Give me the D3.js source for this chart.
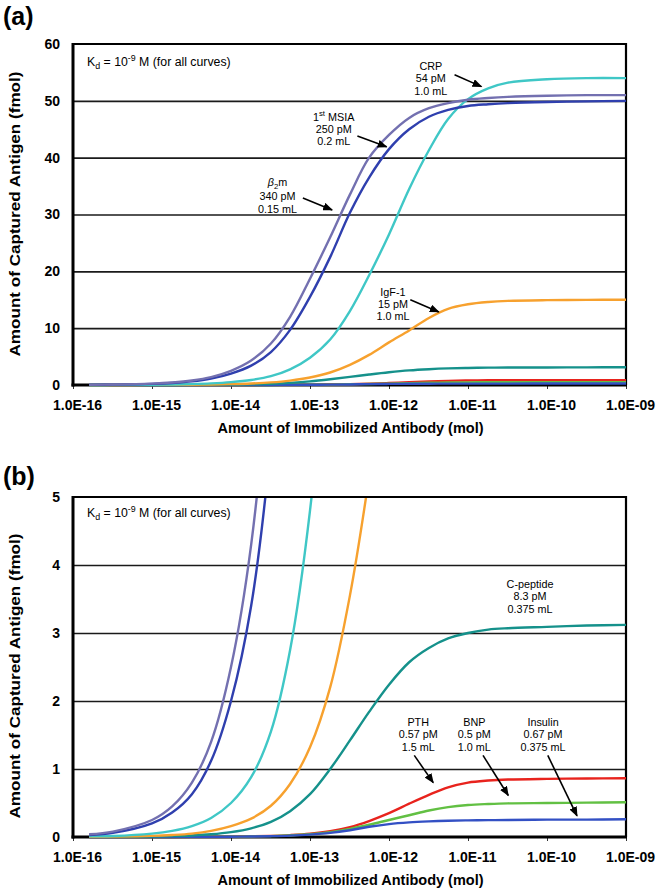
<!DOCTYPE html>
<html><head><meta charset="utf-8">
<script src="https://cdn.jsdelivr.net/npm/d3@7"></script>
<style>
body{margin:0;background:#fff}
text{font-family:"Liberation Sans",Arial,Helvetica,sans-serif;fill:#000}
</style>
</head><body>
<svg id="chart" width="663" height="894"></svg>
<script>
// ---------------- DATA ----------------
const antibodyMol = [1.6e-16, 3.2e-16, 1e-15, 1.8e-15, 3.2e-15, 5.6e-15, 1e-14, 1.8e-14, 3.2e-14, 5.6e-14,
  1e-13, 1.8e-13, 3.2e-13, 5.6e-13, 1e-12, 1.8e-12, 3.2e-12, 5.6e-12, 1e-11, 1.8e-11, 3.2e-11, 1e-10, 3.2e-10, 1e-9];

const b2m      = [0.04, 0.08, 0.25, 0.45, 0.8, 1.4, 2.5, 4.3, 7.3, 12, 18.7, 26, 33.5, 40, 44, 47, 48.7, 49.6, 50.2, 50.5, 50.7, 50.9, 51, 51];
const msia     = [0.03, 0.06, 0.2, 0.36, 0.63, 1.12, 2.0, 3.4, 5.8, 9.7, 15.5, 22.5, 30.3, 36.5, 41.5, 45, 47.2, 48.4, 49.1, 49.4, 49.6, 49.8, 49.9, 50];
const crp      = [0.01, 0.015, 0.05, 0.09, 0.16, 0.28, 0.5, 0.88, 1.55, 2.75, 4.8, 8.0, 13, 19.3, 26.5, 34.5, 41.3, 46.8, 50.3, 52.2, 53.2, 53.8, 54, 54];
const igf1     = [0.0025, 0.005, 0.016, 0.029, 0.05, 0.09, 0.16, 0.27, 0.46, 0.78, 1.32, 2.2, 3.55, 5.3, 7.5, 9.6, 11.8, 13.4, 14.2, 14.6, 14.8, 14.93, 14.98, 15];
const cpeptide = [0.0012, 0.0025, 0.007, 0.013, 0.023, 0.04, 0.072, 0.128, 0.222, 0.38, 0.63, 1.0, 1.42, 1.84, 2.24, 2.57, 2.78, 2.92, 3.0, 3.05, 3.07, 3.09, 3.11, 3.12];
const pth      = [0.0001, 0.0002, 0.0006, 0.001, 0.0018, 0.003, 0.005, 0.009, 0.016, 0.028, 0.048, 0.085, 0.145, 0.235, 0.35, 0.49, 0.62, 0.73, 0.80, 0.83, 0.845, 0.855, 0.86, 0.865];
const bnp      = [0.0001, 0.00015, 0.0004, 0.0008, 0.0014, 0.0025, 0.004, 0.008, 0.013, 0.023, 0.04, 0.07, 0.12, 0.18, 0.25, 0.32, 0.39, 0.44, 0.47, 0.485, 0.495, 0.5, 0.505, 0.51];
const insulin  = [0.0001, 0.0002, 0.0004, 0.0008, 0.0014, 0.0025, 0.004, 0.007, 0.012, 0.02, 0.035, 0.06, 0.1, 0.15, 0.19, 0.215, 0.23, 0.24, 0.245, 0.248, 0.25, 0.255, 0.255, 0.26];

const seriesNames  = ["PTH", "BNP", "Insulin", "C-peptide", "IgF-1", "CRP", "1st MSIA", "β2m"];
const seriesValues = [pth, bnp, insulin, cpeptide, igf1, crp, msia, b2m];
const seriesColors = ["#e8231d", "#62c043", "#3350c4", "#15918b", "#f7a12e", "#3fc7c6", "#2f3fae", "#7370b0"];

const xTickValues = [1e-16, 1e-15, 1e-14, 1e-13, 1e-12, 1e-11, 1e-10, 1e-9];
const xTickLabels = ["1.0E-16", "1.0E-15", "1.0E-14", "1.0E-13", "1.0E-12", "1.0E-11", "1.0E-10", "1.0E-09"];
const yTicksA = [0, 10, 20, 30, 40, 50, 60];
const yTicksB = [0, 1, 2, 3, 4, 5];

const kdText = ["K", ["d", "sub"], " = 10", ["-9", "sup"], " M (for all curves)"];

// annotation anchors in data units (log10 of mol, fmol)
const annotationsA = [
  {lines: [["CRP"], ["54 pM"], ["1.0 mL"]], lx: -11.47, v: 56.1, arrow: [-11.17, 54.6, -10.83, 52.5]},
  {lines: [["1", ["st", "sup"], " MSIA"], ["250 pM"], ["0.2 mL"]], lx: -12.70, v: 47.2, arrow: [-12.40, 43.8, -12.03, 41.9]},
  {lines: [[["β", "it"], ["2", "sub"], "m"], ["340 pM"], ["0.15 mL"]], lx: -13.41, v: 35.7, arrow: [-13.09, 32.9, -12.72, 30.8], gap: 13.5},
  {lines: [["IgF-1"], ["15 pM"], ["1.0 mL"]], lx: -11.95, v: 16.4, arrow: [-11.73, 15.0, -11.37, 12.85]}
];
const annotationsB = [
  {lines: [["C-peptide"], ["8.3 pM"], ["0.375 mL"]], lx: -10.215, v: 3.72, arrow: null},
  {lines: [["PTH"], ["0.57 pM"], ["1.5 mL"]], lx: -11.63, v: 1.69, arrow: [-11.68, 1.2, -11.44, 0.80]},
  {lines: [["BNP"], ["0.5 pM"], ["1.0 mL"]], lx: -10.92, v: 1.69, arrow: [-10.81, 1.2, -10.49, 0.61]},
  {lines: [["Insulin"], ["0.67 pM"], ["0.375 mL"]], lx: -10.05, v: 1.69, arrow: [-9.99, 1.2, -9.62, 0.31]}
];

// ---------------- DRAWING ----------------
const svg = d3.select("#chart");
svg.append("rect").attr("width", 663).attr("height", 894).attr("fill", "#fff");

const defs = svg.append("defs");
defs.append("marker").attr("id", "arrowHead").attr("markerUnits", "userSpaceOnUse")
  .attr("markerWidth", 10).attr("markerHeight", 8).attr("refX", 9).attr("refY", 4)
  .attr("orient", "auto")
  .append("path").attr("d", "M0,0 L10,4 L0,8 Z").attr("fill", "#000");

const plotLeft = 73, plotRight = 626;
const x = d3.scaleLog().domain([1e-16, 1e-9]).range([plotLeft, plotRight]);

function richText(g, px, py, segs, fs, anchor, weight) {
  const t = g.append("text").attr("x", px).attr("y", py)
    .attr("text-anchor", anchor).attr("font-size", fs).attr("font-weight", weight || "normal");
  let shift = 0;
  segs.forEach(s => {
    const [str, kind] = typeof s === "string" ? [s, ""] : s;
    const ts = t.append("tspan").text(str);
    const target = kind === "sup" ? -fs * 0.4 : kind === "sub" ? fs * 0.25 : 0;
    if (kind === "sup" || kind === "sub") ts.attr("font-size", fs * 0.72);
    if (kind === "it") ts.attr("font-style", "italic");
    if (target !== shift) { ts.attr("dy", target - shift); shift = target; }
  });
  return t;
}

function panel(o) {
  const g = svg.append("g");
  const y = d3.scaleLinear().domain(o.yDomain).range([o.bottom, o.top]);

  g.append("text").attr("x", 3).attr("y", o.letterY).attr("font-size", 25)
    .attr("font-weight", "bold").text(o.letter);

  // gridlines
  g.append("g").attr("transform", `translate(${plotLeft},0)`)
    .call(d3.axisLeft(y).tickValues(o.yTicks.slice(1, -1)).tickSize(-(plotRight - plotLeft)).tickFormat(""))
    .call(a => a.select(".domain").remove())
    .call(a => a.selectAll("line").attr("stroke", "#1a1a1a").attr("stroke-width", 1.6));

  // y tick labels
  g.append("g").attr("transform", `translate(${plotLeft},0)`)
    .call(d3.axisLeft(y).tickValues(o.yTicks).tickSize(0).tickPadding(13).tickFormat(d3.format("d")))
    .call(a => a.select(".domain").remove())
    .call(a => a.selectAll("text").attr("font-size", 14).attr("font-weight", "bold")
      .attr("font-family", "Liberation Sans, Arial, sans-serif").attr("fill", "#000"));

  // x axis
  g.append("g").attr("transform", `translate(0,${o.bottom})`)
    .call(d3.axisBottom(x).tickValues(xTickValues).tickSize(4)
      .tickFormat((d, i) => xTickLabels[i]))
    .call(a => a.select(".domain").remove())
    .call(a => a.selectAll("line").attr("stroke", "#333").attr("stroke-width", 1))
    .call(a => a.selectAll("text").attr("font-size", 14).attr("font-weight", "bold")
      .attr("font-family", "Liberation Sans, Arial, sans-serif").attr("fill", "#000")
      .attr("y", 15).attr("dx", 4));

  // frame
  g.append("line").attr("x1", plotLeft).attr("x2", plotRight).attr("y1", o.top).attr("y2", o.top)
    .attr("stroke", "#000").attr("stroke-width", 2.2);
  g.append("line").attr("x1", plotRight).attr("x2", plotRight).attr("y1", o.top - 1).attr("y2", o.bottom)
    .attr("stroke", "#000").attr("stroke-width", 2.2);
  g.append("line").attr("x1", plotLeft).attr("x2", plotLeft).attr("y1", o.top - 1).attr("y2", o.bottom + 1.5)
    .attr("stroke", "#000").attr("stroke-width", 3);
  g.append("line").attr("x1", plotLeft - 1.5).attr("x2", plotRight + 1).attr("y1", o.bottom).attr("y2", o.bottom)
    .attr("stroke", "#000").attr("stroke-width", 3);

  // clip & curves
  const clipId = "clip" + o.letter.replace(/\W/g, "");
  defs.append("clipPath").attr("id", clipId).append("rect")
    .attr("x", plotLeft).attr("y", o.top + 1).attr("width", plotRight - plotLeft + 1)
    .attr("height", o.bottom - o.top + 1);
  const line = d3.line().x(d => x(d[0])).y(d => y(d[1])).curve(d3.curveCatmullRom.alpha(0.5));
  const cg = g.append("g").attr("clip-path", `url(#${clipId})`);
  seriesValues.forEach((vals, i) => {
    cg.append("path")
      .datum(antibodyMol.map((m, j) => [m, vals[j]]))
      .attr("fill", "none").attr("stroke", seriesColors[i]).attr("stroke-width", 2.4)
      .attr("stroke-linejoin", "round").attr("d", line)
      .append("title").text(seriesNames[i]);
  });

  richText(g, plotLeft + 14, o.top + o.kdDy, kdText, 12.3, "start");

  // annotations
  o.annotations.forEach(a => {
    const ax = x(Math.pow(10, a.lx)), ay = y(a.v);
    const gap = a.gap || 12.3;
    a.lines.forEach((ln, k) => richText(g, ax, ay + 4 + k * gap, ln, 10.8, "middle"));
    if (a.arrow) {
      g.append("line")
        .attr("x1", x(Math.pow(10, a.arrow[0]))).attr("y1", y(a.arrow[1]))
        .attr("x2", x(Math.pow(10, a.arrow[2]))).attr("y2", y(a.arrow[3]))
        .attr("stroke", "#000").attr("stroke-width", 1.6).attr("marker-end", "url(#arrowHead)");
    }
  });

  // axis titles
  g.append("text").attr("x", (plotLeft + plotRight) / 2 + 1).attr("y", o.bottom + 48)
    .attr("text-anchor", "middle").attr("font-size", 14.5).attr("font-weight", "bold")
    .text("Amount of Immobilized Antibody (mol)");
  g.append("text").attr("transform", `translate(20,${o.yTitleCenter}) rotate(-90)`)
    .attr("text-anchor", "middle").attr("font-size", 15.5).attr("font-weight", "bold")
    .attr("textLength", 285).attr("lengthAdjust", "spacingAndGlyphs")
    .text("Amount of Captured Antigen (fmol)");
}

panel({letter: "(a)", letterY: 25, top: 44, bottom: 385, yDomain: [0, 60], yTicks: yTicksA,
  annotations: annotationsA, kdDy: 22, yTitleCenter: 214});
panel({letter: "(b)", letterY: 485, top: 497, bottom: 837, yDomain: [0, 5], yTicks: yTicksB,
  annotations: annotationsB, kdDy: 20, yTitleCenter: 676});
</script>
</body></html>
